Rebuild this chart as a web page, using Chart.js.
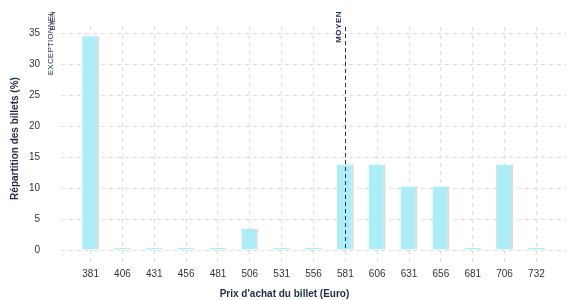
<!DOCTYPE html>
<html><head><meta charset="utf-8">
<script src="https://cdn.jsdelivr.net/npm/chart.js@4/dist/chart.umd.min.js"></script>
<style>html,body{margin:0;padding:0;background:#fff}#wrap{width:577px;height:300px}</style>
</head><body><div id="wrap"><canvas id="c" width="577" height="300"></canvas></div>
<script>
const categories = ['381','406','431','456','481','506','531','556','581','606','631','656','681','706','732'];
const shares = [34.5,0,0,0,0,3.4,0,0,13.8,13.8,10.3,10.3,0,13.8,0];
const yTicks = [0,5,10,15,20,25,30,35];
const markerLabels = ['EXCEPTIONNEL','BIEN','MOYEN'];
const markerPositions = [-1.03,-0.97,8];
const markerLineShown = [false,false,true];
const yTitle = 'Répartition des billets (%)';
const xTitle = "Prix d'achat du billet (Euro)";

const FONT = "'Liberation Sans', Arial, sans-serif";
const NAVY = '#1f2b45';
const GRID = '#dcdcdc';

const overlay = {
  id: 'overlay',
  afterDatasetsDraw(chart) {
    const ctx = chart.ctx, xs = chart.scales.x, ca = chart.chartArea;
    ctx.save();
    markerLabels.forEach((lab, i) => {
      const px = xs.getPixelForValue(markerPositions[i]);
      if (markerLineShown[i]) {
        ctx.strokeStyle = '#2a2f4a';
        ctx.lineWidth = 1;
        ctx.setLineDash([4, 3]);
        ctx.beginPath();
        ctx.moveTo(Math.round(px) + 0.5, ca.top);
        ctx.lineTo(Math.round(px) + 0.5, ca.bottom);
        ctx.stroke();
        ctx.setLineDash([]);
      }
      ctx.save();
      ctx.translate(px - 7, 11);
      ctx.rotate(-Math.PI / 2);
      ctx.fillStyle = '#2a3353';
      const bold = markerLineShown[i];
      ctx.font = (bold ? 'bold ' : '') + '8px ' + FONT;
      ctx.letterSpacing = bold ? '0.5px' : '0.2px';
      ctx.textAlign = 'right';
      ctx.textBaseline = 'middle';
      ctx.fillText(lab, 0, 0);
      ctx.restore();
    });
    ctx.restore();
  },
  afterDraw(chart) {
    const ctx = chart.ctx;
    ctx.save();
    ctx.fillStyle = NAVY;
    ctx.font = 'bold 10px ' + FONT;
    ctx.textAlign = 'center';
    ctx.textBaseline = 'middle';
    ctx.fillText(xTitle, 284.5, 294);
    ctx.restore();
  }
};

new Chart(document.getElementById('c'), {
  type: 'bar',
  data: {
    datasets: [{
      data: shares.map((v, i) => ({ x: i, y: v })),
      backgroundColor: '#adedf8',
      borderColor: '#dcdcdc',
      borderWidth: { top: 0, left: 0, bottom: 0, right: 2 },
      borderSkipped: false,
      minBarLength: 2,
      categoryPercentage: 1,
      barPercentage: 0.53
    }]
  },
  options: {
    responsive: false,
    animation: false,
    devicePixelRatio: 1,
    layout: { padding: { left: 0, right: 10, top: 0, bottom: 0 } },
    plugins: { legend: { display: false }, tooltip: { enabled: false } },
    scales: {
      x: {
        type: 'linear',
        offset: false,
        min: -0.93,
        max: 14.96,
        afterBuildTicks(s) { s.ticks = categories.map((c, i) => ({ value: i })); },
        afterFit(s) { s.height = 50; },
        border: { display: false, dash: [4, 4] },
        grid: { color: GRID, offset: false, drawTicks: true, tickLength: 14, tickColor: GRID, tickBorderDash: [4, 4], tickWidth: 1 },
        ticks: {
          autoSkip: false, maxRotation: 0, minRotation: 0, padding: 4,
          color: '#333', font: { family: FONT, size: 10 },
          callback: (v) => categories[v]
        },
        title: { display: false }
      },
      y: {
        min: 0,
        max: 36,
        afterBuildTicks(s) { s.ticks = yTicks.map(v => ({ value: v })); },
        afterFit(s) { s.width = 61; },
        border: { display: false, dash: [4, 4] },
        grid: { color: GRID, drawTicks: false },
        ticks: { padding: 21, color: '#333', font: { family: FONT, size: 10 } },
        title: { display: true, text: yTitle, color: NAVY, font: { family: FONT, size: 10, weight: 'bold' }, padding: { top: 9, bottom: 0 } }
      }
    }
  },
  plugins: [overlay]
});
</script>
</body></html>
